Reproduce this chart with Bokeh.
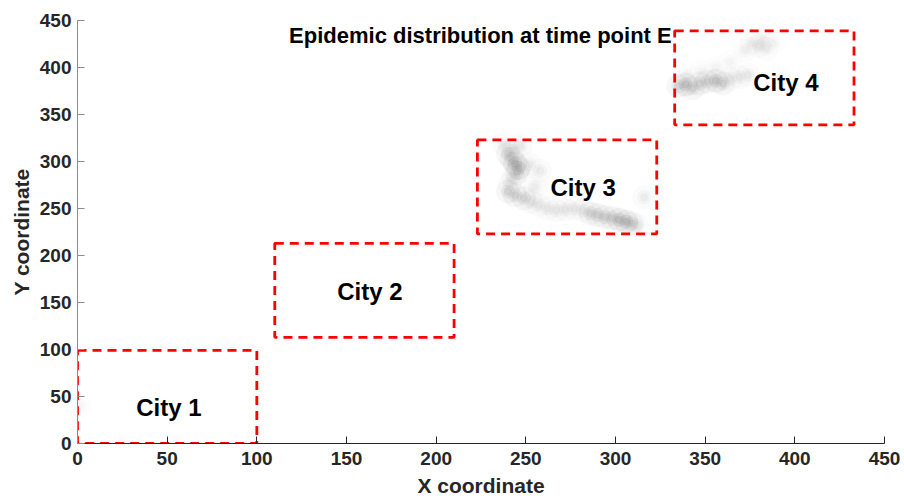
from bokeh.plotting import figure
from bokeh.models import ColumnDataSource, FixedTicker
from bokeh.core.properties import value
from bokeh.embed import file_html
from bokeh.resources import INLINE

# ---- data ----
axis_ticks = [0, 50, 100, 150, 200, 250, 300, 350, 400, 450]

city_names = ["City 1", "City 2", "City 3", "City 4"]
rect_left = [0, 110, 223, 333]
rect_right = [100, 210, 323, 433]
rect_bottom = [0, 113, 223, 339]
rect_top = [99, 213, 323, 439]
label_x = [51, 163, 282, 395]
label_y = [38, 162, 272, 384]

title_text = "Epidemic distribution at time point E"
title_x = [118]
title_y = [434]

# infected-density cloud points (x, y, weight)
cloud_x = [247, 243, 240, 242, 244, 246, 245, 243, 241, 240, 244, 249, 253, 257, 262, 267,
           272, 277, 282, 286, 290, 294, 298, 302, 306, 309, 312, 252, 258, 316, 255, 238,
           335, 339, 343, 347, 351, 356, 360, 364, 369, 374, 340, 348, 356, 364, 372, 376,
           380, 384, 388, 382, 392,
           1, 25, 55]
cloud_y = [317, 312, 308, 303, 298, 293, 288, 283, 276, 268, 264, 261, 257, 254, 250, 248,
           249, 250, 248, 245, 243, 241, 240, 238, 236, 234, 232, 297, 290, 262, 273, 318,
           380, 382, 378, 383, 385, 386, 383, 388, 390, 392, 392, 396, 400, 406, 418, 426,
           423, 420, 426, 430, 388,
           40, 1, 1]
cloud_w = [1, 1, 2, 2, 3, 3, 2, 1, 1, 2, 2, 2, 1, 1, 1, 1,
           1, 1, 1, 2, 2, 2, 2, 3, 3, 2, 1, 1, 1, 1, 1, 1,
           2, 3, 2, 2, 2, 3, 2, 1, 1, 1, 0.6, 0.6, 0.6, 0.6, 0.8, 0.8,
           1, 0.8, 0.6, 0.6, 0.6,
           0.5, 0.3, 0.3]

# ---- figure ----
p = figure(width=904, height=499, x_range=(0, 450), y_range=(0, 450),
           output_backend="svg", toolbar_location=None,
           min_border_left=77, min_border_right=20, min_border_top=20, min_border_bottom=56)
p.outline_line_color = None
p.xgrid.grid_line_color = None
p.ygrid.grid_line_color = None
p.background_fill_color = "white"
p.border_fill_color = "white"

for ax in (p.xaxis[0], p.yaxis[0]):
    ax.ticker = FixedTicker(ticks=axis_ticks)
    ax.minor_tick_line_color = None
    ax.major_tick_in = 7
    ax.major_tick_out = 0
    ax.major_label_text_font = "Liberation Sans"
    ax.major_label_text_font_style = "bold"
    ax.major_label_text_font_size = "19px"
    ax.major_label_text_color = "#262626"
    ax.axis_label_text_font = "Liberation Sans"
    ax.axis_label_text_font_style = "bold"
    ax.axis_label_text_font_size = "21px"
    ax.axis_label_text_color = "#262626"
    ax.major_tick_line_color = "#262626"

p.xaxis.axis_label = "X coordinate"
p.yaxis.axis_label = "Y coordinate"
p.xaxis.axis_line_color = "#262626"
p.yaxis.axis_line_color = "#8c8c8c"
p.yaxis.major_tick_line_color = "#8c8c8c"
p.xaxis.major_label_standoff = 8
p.xaxis.axis_label_standoff = 6
p.yaxis.major_label_standoff = 6
p.yaxis.axis_label_standoff = 4

# clouds (soft blur via layered circles)
cw = [w for w in cloud_w]
src = ColumnDataSource(dict(x=cloud_x, y=cloud_y,
                            a1=[0.035 * w for w in cw],
                            a2=[0.055 * w for w in cw],
                            a3=[0.06 * w for w in cw]))
p.scatter("x", "y", source=src, size=24, fill_color="#909090", fill_alpha="a1", line_color=None)
p.scatter("x", "y", source=src, size=14, fill_color="#858585", fill_alpha="a2", line_color=None)
p.scatter("x", "y", source=src, size=8, fill_color="#7a7a7a", fill_alpha="a3", line_color=None)

# city boxes
rsrc = ColumnDataSource(dict(left=rect_left, right=rect_right, bottom=rect_bottom, top=rect_top))
p.quad(left="left", right="right", bottom="bottom", top="top", source=rsrc,
       fill_color=None, line_color="#ff0000", line_width=2.8, line_dash="9 6")

# city labels
lsrc = ColumnDataSource(dict(x=label_x, y=label_y, t=city_names))
p.text("x", "y", text="t", source=lsrc, text_font=value("Liberation Sans"),
       text_font_style="bold", text_font_size="24px", text_align="center",
       text_baseline="middle", text_color="black")

# title inside axes
p.text(x=title_x, y=title_y, text=[title_text], text_font=value("Liberation Sans"),
       text_font_style="bold", text_font_size="22px", text_align="left",
       text_baseline="middle", text_color="black")

open("out.html", "w").write(file_html(p, INLINE))
